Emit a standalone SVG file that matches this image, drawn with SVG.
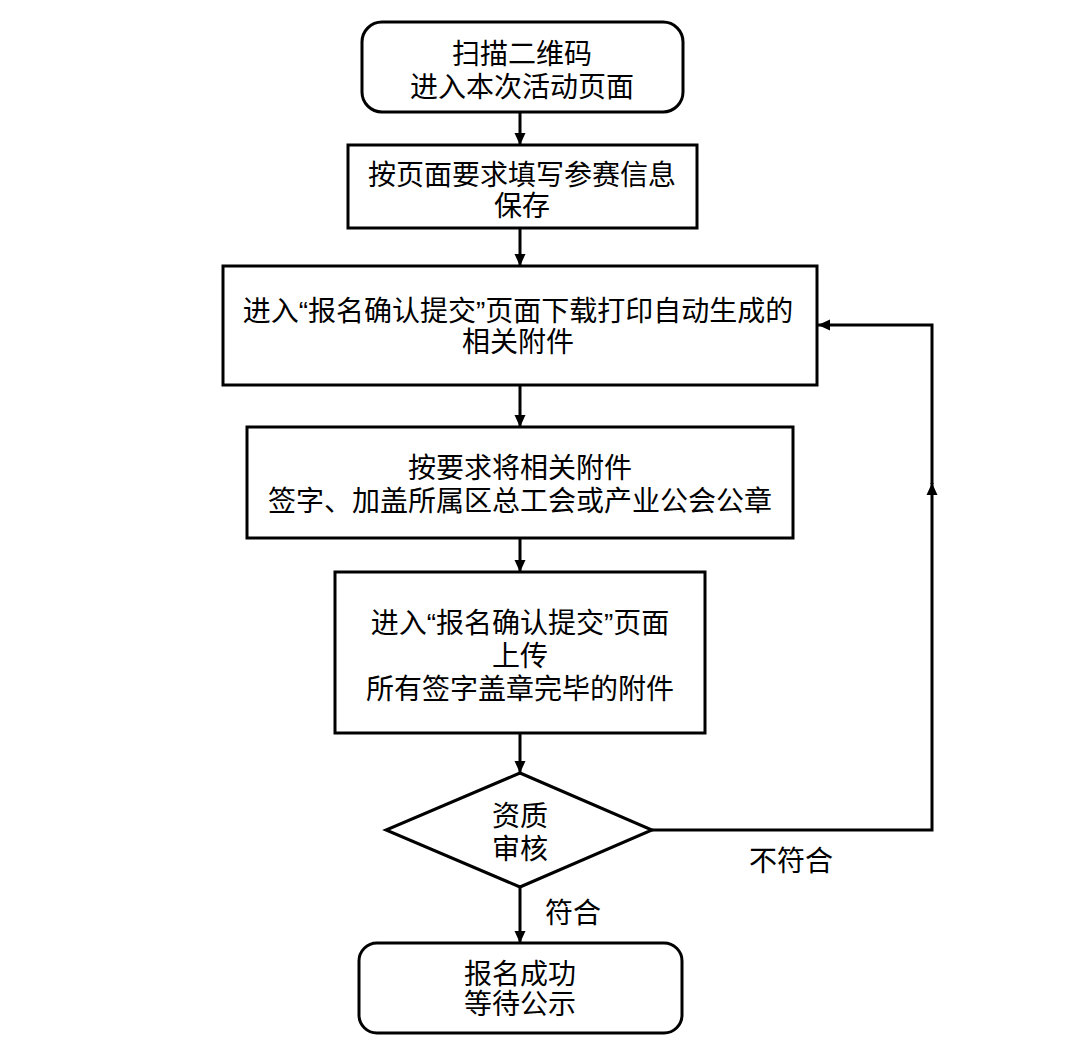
<svg xmlns="http://www.w3.org/2000/svg" width="1080" height="1057" viewBox="0 0 1080 1057">
<style>
.box{fill:#fff;stroke:#000;stroke-width:3}
.t{font-family:"Liberation Sans","Noto Sans CJK SC",sans-serif;font-size:28px;fill:#000;text-anchor:middle}
.c{fill:none;stroke:#000;stroke-width:3}
</style>
<defs>
<marker id="ah" markerUnits="userSpaceOnUse" markerWidth="13" markerHeight="12" refX="12" refY="6" orient="auto">
<path d="M0,0.5 L12,6 L0,11.5 z" fill="#000"/>
</marker>
</defs>
<rect width="1080" height="1057" fill="#fff"/>
<g id="connectors">
<path class="c" d="M520,112 V145" marker-end="url(#ah)"/>
<path class="c" d="M520,228 V266" marker-end="url(#ah)"/>
<path class="c" d="M520,385 V427" marker-end="url(#ah)"/>
<path class="c" d="M520,538 V572" marker-end="url(#ah)"/>
<path class="c" d="M520,733 V773" marker-end="url(#ah)"/>
<path class="c" d="M520,887 V943" marker-end="url(#ah)"/>
<path class="c" d="M652,830 H932 V483" marker-end="url(#ah)"/>
<path class="c" d="M932,484 V325 H818" marker-end="url(#ah)"/>
<text class="t" x="791" y="871">不符合</text>
<text class="t" x="573" y="923">符合</text>
</g>
<g id="n1">
<rect class="box" x="362" y="22" width="321" height="90" rx="20"/>
<text class="t" x="522" y="64">扫描二维码</text>
<text class="t" x="522" y="97">进入本次活动页面</text>
</g>
<g id="n2">
<rect class="box" x="348" y="145" width="349" height="83"/>
<text class="t" x="522" y="185">按页面要求填写参赛信息</text>
<text class="t" x="522" y="216">保存</text>
</g>
<g id="n3">
<rect class="box" x="223" y="266" width="594" height="119"/>
<text class="t" x="518" y="321">进入“报名确认提交”页面下载打印自动生成的</text>
<text class="t" x="518" y="352">相关附件</text>
</g>
<g id="n4">
<rect class="box" x="247" y="427" width="546" height="111"/>
<text class="t" x="520" y="478">按要求将相关附件</text>
<text class="t" x="520" y="511">签字、加盖所属区总工会或产业公会公章</text>
</g>
<g id="n5">
<rect class="box" x="335" y="572" width="370" height="161"/>
<text class="t" x="520" y="633">进入“报名确认提交”页面</text>
<text class="t" x="520" y="666">上传</text>
<text class="t" x="520" y="699">所有签字盖章完毕的附件</text>
</g>
<g id="n6">
<polygon class="box" points="520,773 652,830 520,887 386,830"/>
<text class="t" x="520" y="826">资质</text>
<text class="t" x="520" y="859">审核</text>
</g>
<g id="n7">
<rect class="box" x="359" y="943" width="323" height="90" rx="18"/>
<text class="t" x="520" y="984">报名成功</text>
<text class="t" x="520" y="1014">等待公示</text>
</g>
</svg>
